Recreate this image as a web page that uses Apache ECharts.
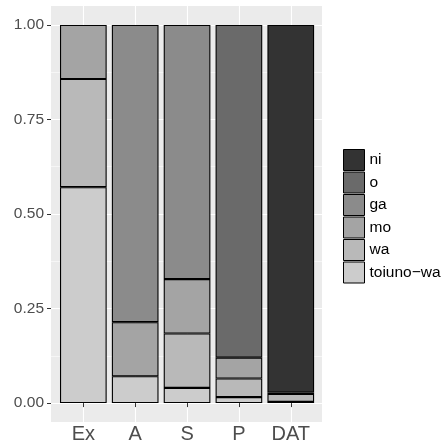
<!DOCTYPE html>
<html>
<head>
<meta charset="utf-8">
<script src="https://cdn.jsdelivr.net/npm/echarts@6/dist/echarts.min.js"></script>
<style>
html,body{margin:0;padding:0;background:#fff;}
#chart{width:441px;height:448px;}
</style>
</head>
<body>
<div id="chart"></div>
<script>
const categories = ['Ex', 'A', 'S', 'P', 'DAT'];
const toiunoWa = [0.571, 0.071, 0.040, 0.016, 0.003];
const wa       = [0.286, 0.000, 0.144, 0.049, 0.021];
const mo       = [0.143, 0.143, 0.144, 0.055, 0.004];
const ga       = [0.000, 0.786, 0.672, 0.000, 0.000];
const o        = [0.000, 0.000, 0.000, 0.880, 0.000];
const ni       = [0.000, 0.000, 0.000, 0.000, 0.972];
const yTicks = [0, 0.25, 0.5, 0.75, 1];

const seriesNames = ['toiuno\u2212wa', 'wa', 'mo', 'ga', 'o', 'ni'];
const seriesData = [toiunoWa, wa, mo, ga, o, ni];
const colors = ['#CCCCCC', '#B9B9B9', '#A4A4A4', '#8B8B8B', '#6A6A6A', '#333333'];

const FONT = '"Liberation Sans", Arial, Helvetica, sans-serif';
const chart = echarts.init(document.getElementById('chart'), null, {renderer: 'canvas'});

const series = seriesNames.map((name, i) => ({
  name: name,
  type: 'bar',
  stack: 'total',
  xAxisIndex: 2,
  yAxisIndex: 2,
  barCategoryGap: '10%',
  data: seriesData[i].map(v => (v === 0 ? null : v)),
  itemStyle: {color: colors[i], borderColor: '#000000', borderWidth: 1.1},
  emphasis: {disabled: true},
  animation: false
}));

const option = {
  animation: false,
  backgroundColor: '#ffffff',
  textStyle: {fontFamily: FONT},
  grid: [
    {left: 51, top: 6, width: 271, height: 416, show: true, backgroundColor: '#EBEBEB', borderWidth: 0},
    {left: 51, top: 24.9, width: 271, height: 378.2},
    {left: 57.4, top: 6, width: 259.3, height: 416}
  ],
  xAxis: [
    {gridIndex: 0, type: 'value', show: false},
    {gridIndex: 1, type: 'value', show: false},
    {
      gridIndex: 2, type: 'category', data: categories,
      axisLine: {show: false},
      axisTick: {show: true, alignWithLabel: true, length: 4, lineStyle: {color: '#333333', width: 1}},
      axisLabel: {fontSize: 20, color: '#4D4D4D', margin: 2, fontFamily: FONT},
      splitLine: {show: true, alignWithLabel: true, lineStyle: {color: '#FFFFFF', width: 1.1}}
    }
  ],
  yAxis: [
    {gridIndex: 0, type: 'value', show: false},
    {
      gridIndex: 1, type: 'value', min: yTicks[0], max: yTicks[yTicks.length - 1], interval: yTicks[1] - yTicks[0],
      axisLine: {show: false},
      axisTick: {show: true, length: 4, lineStyle: {color: '#333333', width: 1}},
      minorTick: {show: false, splitNumber: 2},
      axisLabel: {fontSize: 15.5, color: '#4D4D4D', margin: 7, fontFamily: FONT,
                  formatter: v => v.toFixed(2)},
      splitLine: {show: true, lineStyle: {color: '#FFFFFF', width: 1.1}},
      minorSplitLine: {show: true, lineStyle: {color: '#FFFFFF', width: 0.55}}
    },
    {gridIndex: 2, type: 'value', min: -0.05, max: 1.05, show: false, splitLine: {show: false}}
  ],
  legend: {
    orient: 'vertical',
    left: 343,
    top: 149,
    padding: 0,
    itemWidth: 21,
    itemHeight: 21,
    itemGap: 0.5,
    icon: 'rect',
    data: seriesNames.slice().reverse(),
    textStyle: {fontSize: 15.5, lineHeight: 21, color: '#000000', fontFamily: FONT},
    itemStyle: {borderColor: '#000000', borderWidth: 1},
    selectedMode: false
  },
  series: series
};
chart.setOption(option);
</script>
</body>
</html>
